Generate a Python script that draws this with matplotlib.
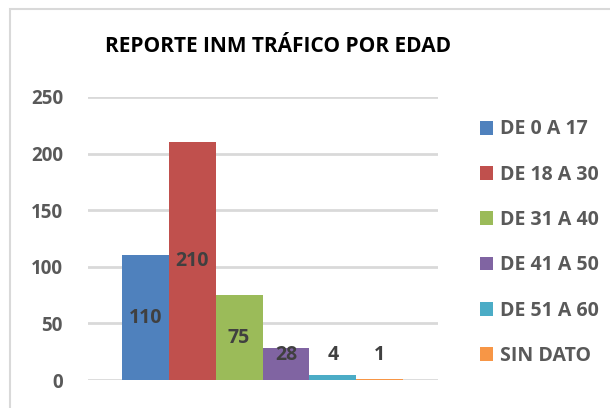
import matplotlib
matplotlib.use("Agg")
import matplotlib.pyplot as plt
from matplotlib.patches import Rectangle, Patch

# datos
categorias = ["DE 0 A 17", "DE 18 A 30", "DE 31 A 40", "DE 41 A 50", "DE 51 A 60", "SIN DATO"]
valores = [110, 210, 75, 28, 4, 1]
colores = ["#4F81BD", "#C0504D", "#9BBB59", "#8064A2", "#4BACC6", "#F79646"]
yticks = [0, 50, 100, 150, 200, 250]

GRID = "#D9D9D9"
TICK = "#595959"
LABEL = "#404040"

plt.rcParams["font.family"] = ["Open Sans", "DejaVu Sans"]

W, H = 610, 408
fig = plt.figure(figsize=(W / 100, H / 100), dpi=100)
fig.patch.set_facecolor("white")

# borde del gráfico (recortado a la derecha / abajo)
fig.patches.append(Rectangle((10 / W, -0.1), 1.2, 1 - 9 / H + 0.1,
                             transform=fig.transFigure, fill=False,
                             edgecolor=GRID, lw=1.5))

ax = fig.add_axes([88 / W, 1 - 380 / H, 350 / W, (380 - 97) / H])
n = len(valores)
ancho = 281 / 350 / n
inicio = (122 - 88) / 350 - 0.5
for i, (v, c) in enumerate(zip(valores, colores)):
    x = inicio + ancho * (i + 0.5)
    ax.bar(x, v, width=ancho, color=c, zorder=3)
    ax.text(x, max(v / 2, 22), str(v), ha="center", va="center",
            fontsize=14, fontweight="bold", color=LABEL, zorder=4)

ax.set_xlim(-0.5, 0.5)
ax.set_ylim(0, 250)
ax.set_yticks(yticks)
ax.set_xticks([])
ax.grid(axis="y", color=GRID, lw=2, zorder=0)
for s in ax.spines.values():
    s.set_visible(False)
ax.tick_params(axis="y", length=0, pad=18, labelsize=13.5, labelcolor=TICK)
for t in ax.get_yticklabels():
    t.set_fontweight("bold")

fig.text(278 / W, 1 - 47 / H, "REPORTE INM TRÁFICO POR EDAD", ha="center", va="center",
         fontsize=15, fontweight="bold", color="#000000")

handles = [Patch(facecolor=c, edgecolor="none") for c in colores]
leg = fig.legend(handles, categorias, loc="upper left",
                 bbox_to_anchor=(462 / W, 1 - 102 / H), frameon=False,
                 handlelength=0.7, handleheight=0.7, handletextpad=0.35,
                 labelspacing=1.3, prop={"size": 14, "weight": "bold"})
for t in leg.get_texts():
    t.set_color(TICK)

fig.savefig("out.png", dpi=100, facecolor="white")
